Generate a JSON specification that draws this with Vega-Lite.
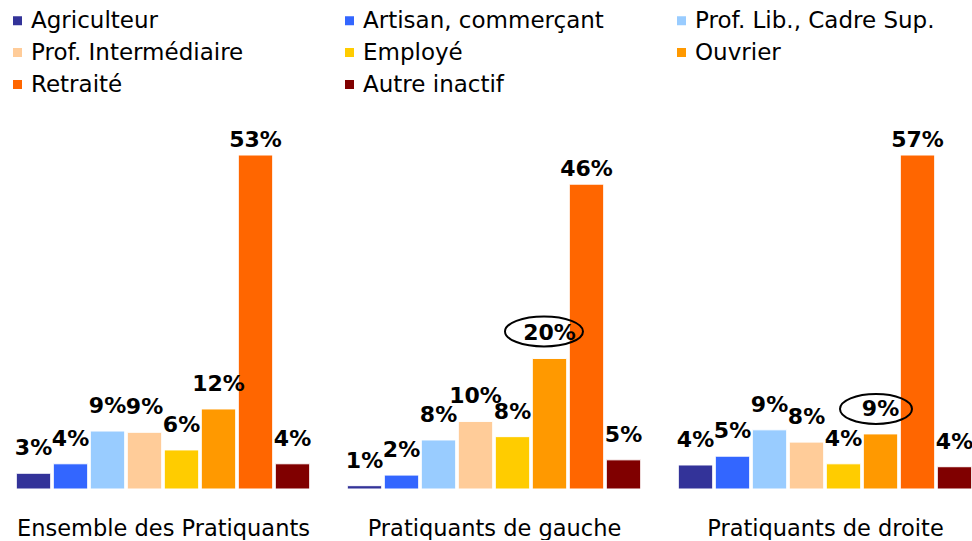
{
  "$schema": "https://vega.github.io/schema/vega-lite/v6.json",
  "autosize": {"type": "pad"},
  "padding": {"left": 6, "top": 9, "right": 0, "bottom": 0},
  "background": "white",
  "config": {
    "view": {"stroke": null},
    "font": "DejaVu Sans",
    "concat": {"spacing": 33},
    "axisX": {"labels": false, "ticks": false, "domain": false, "grid": false, "titleFont": "DejaVu Sans", "titleFontSize": 22.5, "titleFontWeight": "normal", "titleColor": "#000000", "titlePadding": 28},
    "legend": {
      "orient": "none", "legendX": -9, "legendY": -146, "columns": 3, "direction": "horizontal",
      "title": null, "symbolType": "square", "symbolSize": 81, "symbolStrokeWidth": 0,
      "labelFont": "DejaVu Sans", "labelFontSize": 23, "labelColor": "#000000", "labelOffset": 2,
      "gridAlign": "all", "columnPadding": 66, "rowPadding": 8, "labelLimit": 400
    }
  },
  "data": {"values": [
    {"groupe": "Ensemble des Pratiquants", "cat": "Agriculteur", "v": 2.5, "label": "3%", "ell": null},
    {"groupe": "Ensemble des Pratiquants", "cat": "Artisan, commerçant", "v": 4.0, "label": "4%", "ell": null},
    {"groupe": "Ensemble des Pratiquants", "cat": "Prof. Lib., Cadre Sup.", "v": 9.2, "label": "9%", "ell": null},
    {"groupe": "Ensemble des Pratiquants", "cat": "Prof. Intermédiaire", "v": 9.0, "label": "9%", "ell": null},
    {"groupe": "Ensemble des Pratiquants", "cat": "Employé", "v": 6.2, "label": "6%", "ell": null},
    {"groupe": "Ensemble des Pratiquants", "cat": "Ouvrier", "v": 12.7, "label": "12%", "ell": null},
    {"groupe": "Ensemble des Pratiquants", "cat": "Retraité", "v": 53.0, "label": "53%", "ell": null},
    {"groupe": "Ensemble des Pratiquants", "cat": "Autre inactif", "v": 4.0, "label": "4%", "ell": null},
    {"groupe": "Pratiquants de gauche", "cat": "Agriculteur", "v": 0.5, "label": "1%", "ell": null},
    {"groupe": "Pratiquants de gauche", "cat": "Artisan, commerçant", "v": 2.1, "label": "2%", "ell": null},
    {"groupe": "Pratiquants de gauche", "cat": "Prof. Lib., Cadre Sup.", "v": 7.4, "label": "8%", "ell": null},
    {"groupe": "Pratiquants de gauche", "cat": "Prof. Intermédiaire", "v": 10.2, "label": "10%", "ell": null},
    {"groupe": "Pratiquants de gauche", "cat": "Employé", "v": 7.9, "label": "8%", "ell": null},
    {"groupe": "Pratiquants de gauche", "cat": "Ouvrier", "v": 19.7, "label": "20%", "ell": "a"},
    {"groupe": "Pratiquants de gauche", "cat": "Retraité", "v": 46.0, "label": "46%", "ell": null},
    {"groupe": "Pratiquants de gauche", "cat": "Autre inactif", "v": 4.4, "label": "5%", "ell": null},
    {"groupe": "Pratiquants de droite", "cat": "Agriculteur", "v": 4.1, "label": "4%", "ell": null},
    {"groupe": "Pratiquants de droite", "cat": "Artisan, commerçant", "v": 5.6, "label": "5%", "ell": null},
    {"groupe": "Pratiquants de droite", "cat": "Prof. Lib., Cadre Sup.", "v": 10.1, "label": "9%", "ell": null},
    {"groupe": "Pratiquants de droite", "cat": "Prof. Intermédiaire", "v": 8.0, "label": "8%", "ell": null},
    {"groupe": "Pratiquants de droite", "cat": "Employé", "v": 4.3, "label": "4%", "ell": null},
    {"groupe": "Pratiquants de droite", "cat": "Ouvrier", "v": 9.4, "label": "9%", "ell": "b"},
    {"groupe": "Pratiquants de droite", "cat": "Retraité", "v": 57.0, "label": "57%", "ell": null},
    {"groupe": "Pratiquants de droite", "cat": "Autre inactif", "v": 3.8, "label": "4%", "ell": null}
  ]},
  "resolve": {"scale": {"color": "shared", "shape": "shared", "x": "independent", "y": "independent"}},
  "hconcat": [
    {
      "width": 296, "height": 334,
      "transform": [{"filter": "datum.groupe === 'Ensemble des Pratiquants'"}],
      "encoding": {
        "x": {"field": "cat", "type": "nominal", "sort": null, "scale": {"paddingInner": 0.07, "paddingOuter": 0.035}, "axis": {"title": "Ensemble des Pratiquants"}},
        "y": {"field": "v", "type": "quantitative", "scale": {"domain": [0, 53], "nice": false, "zero": true}, "axis": null}
      },
      "layer": [
        {"mark": {"type": "bar", "stroke": "white", "strokeWidth": 1},
         "encoding": {"color": {"field": "cat", "type": "nominal", "sort": null,
           "scale": {"domain": ["Agriculteur", "Artisan, commerçant", "Prof. Lib., Cadre Sup.", "Prof. Intermédiaire", "Employé", "Ouvrier", "Retraité", "Autre inactif"],
                     "range": ["#333399", "#3366FF", "#99CCFF", "#FFCC99", "#FFCC00", "#FF9900", "#FF6600", "#800000"]}}}},
        {"transform": [{"filter": "datum.cat !== 'Retraité'"}],
         "mark": {"type": "text", "dy": -18, "baseline": "alphabetic", "fontWeight": "bold", "fontSize": 22, "color": "#000000"},
         "encoding": {"text": {"field": "label", "type": "nominal"}}},
        {"transform": [{"filter": "datum.cat === 'Retraité'"}],
         "mark": {"type": "text", "dy": -8, "baseline": "alphabetic", "fontWeight": "bold", "fontSize": 22, "color": "#000000"},
         "encoding": {"text": {"field": "label", "type": "nominal"}}}
      ]
    },
    {
      "width": 296, "height": 334,
      "transform": [{"filter": "datum.groupe === 'Pratiquants de gauche'"}],
      "encoding": {
        "x": {"field": "cat", "type": "nominal", "sort": null, "scale": {"paddingInner": 0.07, "paddingOuter": 0.035}, "axis": {"title": "Pratiquants de gauche"}},
        "y": {"field": "v", "type": "quantitative", "scale": {"domain": [0, 50.4], "nice": false, "zero": true}, "axis": null}
      },
      "layer": [
        {"mark": {"type": "bar", "stroke": "white", "strokeWidth": 1},
         "encoding": {"color": {"field": "cat", "type": "nominal", "sort": null}}},
        {"transform": [{"filter": "datum.cat !== 'Retraité'"}],
         "mark": {"type": "text", "dy": -18, "baseline": "alphabetic", "fontWeight": "bold", "fontSize": 22, "color": "#000000"},
         "encoding": {"text": {"field": "label", "type": "nominal"}}},
        {"transform": [{"filter": "datum.cat === 'Retraité'"}],
         "mark": {"type": "text", "dy": -8, "baseline": "alphabetic", "fontWeight": "bold", "fontSize": 22, "color": "#000000"},
         "encoding": {"text": {"field": "label", "type": "nominal"}}},
        {"transform": [{"filter": "datum.ell != null"}],
         "mark": {"type": "point", "filled": false, "stroke": "#000000", "strokeWidth": 2, "size": 1600, "opacity": 1},
         "encoding": {"shape": {"field": "ell", "type": "nominal", "legend": null,
           "scale": {"domain": ["a", "b"], "range": ["M -2.225 -1.35 A 1.95 0.75 0 1 0 1.675 -1.35 A 1.95 0.75 0 1 0 -2.225 -1.35 Z", "M -2.025 -1.25 A 1.8 0.75 0 1 0 1.575 -1.25 A 1.8 0.75 0 1 0 -2.025 -1.25 Z"]}}}}
      ]
    },
    {
      "width": 296, "height": 334,
      "transform": [{"filter": "datum.groupe === 'Pratiquants de droite'"}],
      "encoding": {
        "x": {"field": "cat", "type": "nominal", "sort": null, "scale": {"paddingInner": 0.07, "paddingOuter": 0.035}, "axis": {"title": "Pratiquants de droite"}},
        "y": {"field": "v", "type": "quantitative", "scale": {"domain": [0, 57], "nice": false, "zero": true}, "axis": null}
      },
      "layer": [
        {"mark": {"type": "bar", "stroke": "white", "strokeWidth": 1},
         "encoding": {"color": {"field": "cat", "type": "nominal", "sort": null}}},
        {"transform": [{"filter": "datum.cat !== 'Retraité'"}],
         "mark": {"type": "text", "dy": -18, "baseline": "alphabetic", "fontWeight": "bold", "fontSize": 22, "color": "#000000"},
         "encoding": {"text": {"field": "label", "type": "nominal"}}},
        {"transform": [{"filter": "datum.cat === 'Retraité'"}],
         "mark": {"type": "text", "dy": -8, "baseline": "alphabetic", "fontWeight": "bold", "fontSize": 22, "color": "#000000"},
         "encoding": {"text": {"field": "label", "type": "nominal"}}},
        {"transform": [{"filter": "datum.ell != null"}],
         "mark": {"type": "point", "filled": false, "stroke": "#000000", "strokeWidth": 2, "size": 1600, "opacity": 1},
         "encoding": {"shape": {"field": "ell", "type": "nominal", "legend": null}}}
      ]
    }
  ]
}
